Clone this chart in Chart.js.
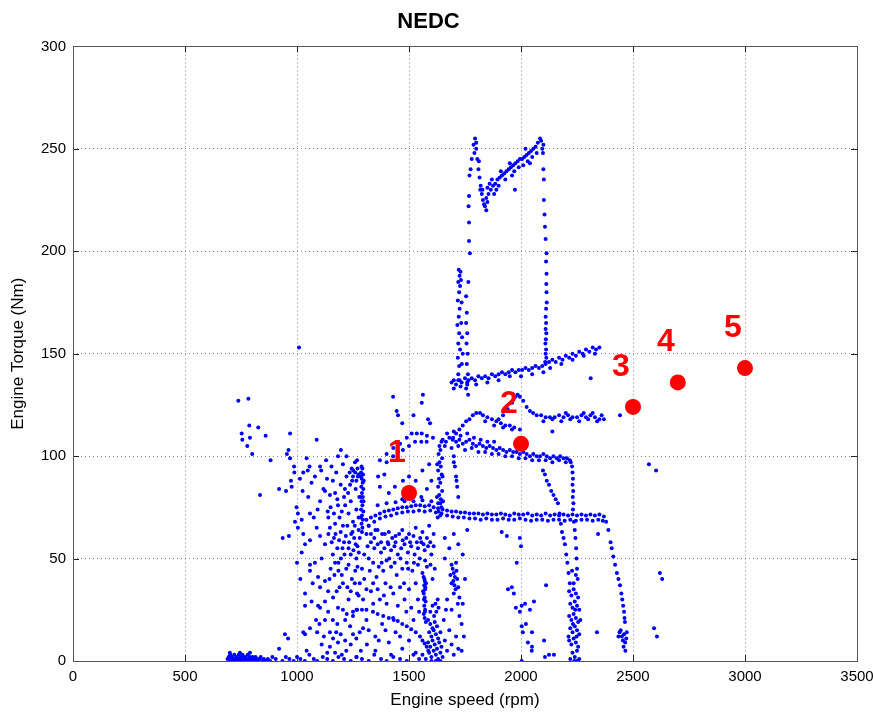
<!DOCTYPE html>
<html><head><meta charset="utf-8">
<script src="https://cdn.jsdelivr.net/npm/chart.js@4/dist/chart.umd.min.js"></script>
<style>html,body{margin:0;padding:0;background:#fff}#wrap{width:873px;height:713px}</style>
</head><body><div id="wrap"><canvas id="c" width="873" height="713"></canvas></div>
<script>
const chartTitle = "NEDC";
const xTitle = "Engine speed (rpm)";
const yTitle = "Engine Torque (Nm)";
const xTicks = [0,500,1000,1500,2000,2500,3000,3500];
const yTicks = [0,50,100,150,200,250,300];

// operating points (rpm, Nm) and their labels
const opLabels = ["1","2","3","4","5"];
const opPoints = [[1500,82],[2000,106],[2500,124],[2700,136],[3000,143]];

// measured cycle points, grouped by region (rpm, Nm)
const idleCluster = [[690,1],[695,2],[700,0],[702,3],[706,1],[710,2],[713,0],[716,1],[720,3],[723,1],[726,0],[730,2],[733,1],[737,0],[740,3],[743,1],[747,2],[750,0],[754,1],[757,3],[760,2],[764,0],[767,1],[770,2],[774,0],[777,1],[780,3],[784,1],[787,0],[790,2],[794,1],[798,0],[802,2],[806,1],[810,0],[815,2],[820,1],[826,0],[832,1],[838,2],[845,0],[852,1],[860,0],[870,1],[880,0],[890,2],[700,4],[745,4],[790,4]];
const lowSpread = [[905,1],[920,6],[935,0],[950,2],[966,1],[985,0],[1000,2],[1015,1],[1035,0],[1055,3],[1075,1],[1090,0],[1115,2],[1135,1],[1160,0],[1185,2],[1210,1],[1240,0],[1265,2],[1290,1],[1320,0],[1345,3],[1375,1],[1400,0],[1430,2],[1460,1],[1490,0],[1520,3],[1545,1],[946,13],[960,11],[1043,5],[1147,7],[1170,4],[1200,3],[1266,2]];
const upperLeft = [[738,127],[783,128],[787,115],[827,114],[753,111],[756,108],[790,109],[860,110],[778,105],[800,101],[882,98],[969,111],[835,81],[1088,108],[955,101],[962,103],[969,99],[1009,153]];
const leftCloud = [[920,84],[951,83],[976,85],[973,88],[988,92],[987,95],[998,75],[1004,72],[1013,89],[1025,83],[1028,92],[1043,99],[1048,93],[1056,95],[1021,69],[1058,72],[1065,87],[1092,74],[1103,78],[1103,95],[1108,93],[1125,83],[1134,89],[1137,73],[1147,81],[1154,95],[1170,82],[1183,76],[1183,100],[1196,103],[1200,73],[1214,84],[1221,90],[1221,100],[1237,86],[1244,94],[1251,93],[1259,97],
[936,60],[964,61],[991,68],[1004,65],[1028,62],[1036,57],[1021,53],[1058,59],[1088,65],[1103,61],[1125,57],[1147,65],[1165,60],[1180,55],[1195,63],[1210,58],[1225,66],[1240,52],[1255,60],[1270,56],[1058,47],[1058,44],[1094,41],[1125,39],[1103,36],[1139,34],[1177,34],[1161,31],[1036,33],[1036,27],[1065,29],[1094,27],[1125,29],[1103,26],[1139,24],[1183,26],[1205,25],[1266,25],[1268,33],[1295,30],[1310,35],[1028,14],[1036,13],[1058,16],[1090,14],[1100,18],[1125,20],[1120,12],[1147,14],[1161,11],[1175,14],[1183,9],[1195,13],[1215,10],[1237,17],[1250,13],[1265,11],[1280,14],[1295,16],[1080,48],[1110,50],[1150,45],[1170,48],[1200,42],[1220,45],[1245,40],[1260,44],[1280,38],[1190,36],[1230,30],[1250,22],[1215,20],[1160,20],[1180,18],
[1190,70],[1205,66],[1230,72],[1250,68],[1265,74],[1275,64],[1240,78],[1215,76],[1160,52],[1185,48],[1230,55],[1265,50],[1280,60],[1140,70],[1170,67]];
const denseCloud = [[1140,62],[1155,58],[1172,62],[1188,59],[1203,55],[1218,61],[1233,58],[1248,63],[1262,57],[1276,53],[1150,75],[1165,72],[1180,79],[1195,86],[1210,80],[1228,82],[1246,88],[1262,84],[1272,90],[1278,80],[1160,88],[1175,92],[1205,96],[1235,92],[1268,98],[1275,70],[1258,66],[1242,62],[1196,50],[1212,52],[1230,47],[1252,54],[1270,46],[1145,40],[1167,42],[1185,44],[1205,38],[1225,36],[1240,34],[1258,38],[1275,32],[1290,45],[1300,52],[1315,56],[1330,62],[1345,60],[1360,64],[1375,58],[1392,62],[1408,57],[1425,60],[1440,58],[1456,62],[1472,59],[1488,60],[1505,58],[1520,61],[1535,58],[1550,60],[1565,57],[1580,60],[1595,58],[1610,56],[1325,44],[1355,41],[1378,48],[1412,50],[1436,48],[1462,50],[1496,45],[1522,48],[1548,50],[1572,49],[1596,47],[1610,62],[1615,45],[1300,40],[1310,20],[1330,34],[1388,32],[1418,36],[1478,38],[1312,8],[1365,10],[1395,15],[1432,20],[1488,24],[1520,20],[1545,24],[1050,80],[1075,70],[1080,90],[1118,84],[1130,98],[1000,48],[1015,40],[1070,38],[1085,20],[1110,8],[1135,4],[1220,5],[1240,8],[1285,5]];
const line1300 = [[1288,95],[1292,94],[1286,92],[1295,91],[1289,89],[1293,87],[1287,85],[1296,84],[1290,82],[1294,80],[1288,78],[1292,76],[1286,74],[1296,73],[1290,71],[1294,69],[1288,67],[1292,65],[1290,63],[1285,90],[1298,88],[1283,80],[1297,78],[1285,70],[1250,90],[1260,92],[1270,94],[1275,91],[1265,88]];
const midCloud = [[1370,98],[1400,101],[1430,104],[1460,106],[1490,109],[1512,111],[1535,111],[1557,111],[1580,110],[1607,109],
[1400,97],[1429,100],[1450,102],[1473,103],[1500,105],[1527,107],[1555,107],[1579,107],
[1429,129],[1451,120],[1445,122],[1562,130],[1557,126],[1585,118],[1594,116],[1470,116],[1520,120],
[1362,90],[1390,91],[1473,88],[1370,85],[1437,85],[1410,82],[1500,90],[1530,88],[1560,93],[1590,96],[1600,88],[1555,80],[1470,79],[1520,80],[1580,84],
[1310,62],[1330,58],[1345,55],[1360,57],[1375,53],[1390,55],[1405,58],[1420,54],[1435,56],[1450,52],[1465,55],[1480,57],[1495,53],[1510,56],[1525,52],[1540,55],[1555,58],[1570,54],[1585,56],[1600,52],[1320,50],[1340,48],[1365,46],[1385,44],[1400,49],[1420,46],[1445,42],[1470,45],[1490,48],[1515,44],[1540,47],[1560,43],[1580,46],[1605,40],[1320,66],[1350,64],[1380,62],[1410,63],[1440,61],[1470,64],[1500,62],[1530,65],[1560,63],[1590,66],[1340,38],[1360,35],[1395,38],[1430,33],[1460,36],[1500,35],[1530,38],[1340,28],[1370,30],[1400,28],[1450,27],[1480,30],[1510,26],[1540,30],
[1320,15],[1350,12],[1380,18],[1410,9],[1440,14],[1470,6],[1500,10],[1530,4],[1350,5],[1420,3],[1460,12]];
const line75Upper = [[1310,69],[1330,70],[1350,71],[1370,72],[1390,73],[1410,73.5],[1430,74],[1450,74.5],[1470,75],[1490,75],[1510,75.5],[1530,76],[1550,76],[1570,75.5],[1590,76],[1610,75],[1630,74.5],[1650,74],[1670,73.5],[1690,73],[1710,73],[1730,72.5],[1750,72.5],[1770,72],[1790,72],[1810,72],[1830,71.5],[1850,72],[1870,71.5],[1890,71.5],[1910,72],[1930,71.5],[1950,71],[1970,72],[1990,71.5],[2010,71.5],[2030,72],[2050,71],[2070,71.5],[2090,71],[2110,72],[2130,71],[2150,71.5],[2170,71],[2190,71.5],[2210,71],[2230,71.5],[2250,71],[2270,71.5],[2290,71],[2310,71.5],[2330,71],[2350,71.5],[2370,70.5]];
const line75Lower = [[1320,66],[1345,68],[1370,69.5],[1395,70.5],[1420,71],[1445,72],[1470,72.5],[1495,73],[1520,73],[1545,73.5],[1570,73],[1595,73.5],[1620,72.5],[1645,72],[1670,71],[1695,70.5],[1720,70],[1745,70],[1770,69.5],[1795,69.5],[1820,69],[1845,69.5],[1870,69],[1895,69],[1920,69.5],[1945,69],[1970,69],[1995,69.5],[2020,69],[2045,68.5],[2070,69],[2095,69],[2120,68.5],[2145,69],[2170,69],[2195,68.5],[2220,69],[2245,68.5],[2270,69],[2295,69],[2320,68.5],[2345,69],[2365,68.5],[1360,76],[1400,77],[1440,77.5],[1480,78],[1520,78],[1560,78.5],[1600,78],[1640,77]];
const drop2450 = [[2380,68],[2390,64],[2400,58],[2405,55],[2412,51],[2420,47],[2428,43],[2435,40],[2442,37],[2448,33],[2452,30],[2456,27],[2460,24],[2462,21],[2464,19],[2440,14],[2450,12],[2455,10],[2460,13],[2465,9],[2470,11],[2445,15],[2458,7],[2466,5],[2435,12],[2472,14]];
const curveDown = [[1222,23],[1250,24],[1268,25],[1290,25],[1310,25],[1339,24],[1360,23],[1385,22],[1410,21],[1429,21],[1450,19.5],[1470,18],[1490,17],[1510,15.5],[1530,14],[1549,12],[1560,10],[1570,8.5],[1579,7],[1586,5]];
const col1600 = [[1565,41],[1570,39],[1568,37],[1572,35],[1566,33],[1570,31],[1574,29],[1568,27],[1572,25],[1566,23],[1570,21],[1575,19],[1569,40],[1573,36],[1567,30],[1571,24],[1576,38],[1563,34],
[1585,20],[1595,18],[1605,16],[1615,19],[1625,17],[1590,14],[1600,12],[1610,15],[1620,13],[1630,11],[1640,14],[1585,9],[1595,7],[1605,10],[1615,8],[1625,6],[1635,9],[1645,7],[1590,4],[1600,2],[1610,5],[1620,3],[1630,1],[1640,4],[1650,2],[1600,0],[1620,0],[1640,0],[1612,22],[1622,24],[1632,26],[1618,28],[1628,30],[1660,10],[1670,5],[1680,15],[1690,8],[1700,3],[1710,12],[1720,6],[1560,3],[1575,1],[1655,20],[1665,25],[1605,27],[1595,24],
[1690,47],[1695,45],[1700,43],[1705,41],[1698,39],[1703,37],[1708,35],[1700,33],[1712,44],[1715,40],[1720,36],[1685,42],[1690,38],[1710,48],[1725,31],[1718,28],[1725,22],[1735,18],
[1660,60],[1680,55],[1700,62],[1720,57],[1740,52],[1660,50],[1670,30],[1690,25],[1740,28],[1745,12],[1750,40],[1735,5],[1760,64]];
const box100 = [[1628,70],[1640,71],[1632,73],[1645,75],[1630,77],[1642,79],[1635,81],[1648,83],[1630,85],[1640,87],[1634,89],[1646,91],[1630,93],[1642,95],[1636,97],[1648,99],[1632,101],[1640,103],[1636,105],[1645,107],[1625,80],[1650,90],[1626,96],[1652,78],
[1700,100],[1705,95],[1710,90],[1715,85],[1720,80],[1700,97],[1712,88],
[1650,108],[1665,107],[1680,109],[1695,108],[1710,107],[1725,108],[1740,106],[1755,107],[1770,108],[1785,106],[1800,105],[1815,106],[1830,105],[1845,104],[1860,105],[1875,104],[1890,103],[1905,104],[1920,103],[1935,102],[1950,103],[1965,102],[1980,102],[1995,101],[2010,102],[2025,101],[2040,100],[2055,101],[2070,100],[2085,100],[2100,101],[2115,100],[2130,99],[2145,100],[2160,99],[2175,100],[2190,99],[2205,99],[2218,98],
[1660,105],[1690,104],[1720,105],[1750,103],[1780,104],[1810,102],[1840,102],[1870,101],[1900,101],[1930,100],[1960,100],[1990,99],[2020,99],[2050,98],[2080,98],[2110,98],[2140,97],[2170,98],[2200,97],
[1670,111],[1700,112],[1730,110],[1760,111],[1790,109],[1820,108],[1850,107],[1880,107]];
const drop2250 = [[2222,97],[2228,95],[2230,92],[2232,89],[2230,86],[2233,83],[2231,80],[2234,77],[2232,74],[2236,68],[2240,64],[2243,60],[2246,55],[2248,50],[2250,45],[2253,40],
[2098,93],[2107,91],[2115,88],[2125,86],[2135,83],[2145,81],[2155,79],[2165,77],[2172,72],[2178,67],[2183,63],[2190,60],[2196,57],[2202,52],[2207,48],[2212,43],[2218,38]];
const col2250 = [[2215,34],[2225,32],[2235,35],[2245,33],[2255,31],[2220,28],[2230,26],[2240,29],[2250,27],[2260,25],[2215,22],[2225,20],[2235,23],[2245,21],[2255,19],[2220,16],[2230,14],[2240,17],[2250,15],[2260,13],[2215,10],[2225,8],[2235,11],[2245,9],[2255,7],[2230,4],[2240,2],[2250,5],[2220,1],[2260,1],[2235,38],[2245,42],[2228,44],[2212,12],[2265,20],[2238,0],[2250,0],[2232,18],[2242,25],[2248,12]];
const hump120 = [[1697,109],[1710,111],[1725,113],[1740,115],[1755,117],[1770,118],[1785,120],[1800,121],[1817,121],
[1830,120],[1850,119],[1870,118],[1890,117],[1910,116],[1930,115],[1950,115],[1970,114],[1995,113],[1840,117],[1880,115],[1920,114],[1960,113],
[1900,118],[1920,120],[1940,123],[1960,126],[1975,129],[1985,130],[1995,129],[2010,127],[2025,124],[2040,122],[2054,121],[2070,120],[2090,120],[2110,119],[2129,119],[2150,119],[2170,120],[2190,119],[2210,120],[2230,119],[2250,119],[2270,120],[2290,119],[2310,120],[2330,119],[2350,118],[2370,118],[2100,117],[2140,118],[2180,117],[2220,118],[2260,117],[2300,118],[2340,117],[2200,121],[2280,121],[2320,121],[2360,120]];
const line140 = [[1690,136],[1700,137],[1710,135],[1720,137],[1735,136],[1750,138],[1765,137],[1780,138],[1795,137],[1810,139],[1825,138],[1840,139],[1855,138],[1870,140],[1885,139],[1900,140],[1915,141],[1930,140],[1945,141],[1960,142],[1975,141],[1990,142],[2005,142],[2020,143],[2035,142],[2050,143],[2065,144],[2080,143],[2095,144],[2110,145],[2125,146],[2140,147],[2155,146],[2170,148],[2185,147],[2200,149],[2215,148],[2230,150],[2245,149],[2260,151],[2275,150],[2290,152],[2305,151],[2320,153],[2335,152],[2350,153],[1700,133],[1730,134],[1760,135],[1800,135],[1850,136],[1900,137],[1950,139],[2000,139],[2050,140],[2100,141],[2130,143],[2180,145],[2230,147],[2280,149],[2330,150],
[2110,168],[2112,165],[2110,162],[2113,160],[2111,157],[2109,155],[2112,152],[2110,150],[2113,148],[2108,146]];
const spike1730 = [[1722,191],[1726,188],[1720,185],[1728,183],[1724,180],[1718,176],[1726,172],[1722,168],[1716,164],[1724,160],[1720,155],[1728,152],[1718,148],[1724,144],[1720,140],[1726,137],[1730,190],[1732,186],[1735,175],[1733,165],[1737,158],[1740,150],[1736,145],[1755,178],[1758,170],[1755,165],[1760,160],[1757,155],[1762,150],[1758,145],[1763,140],[1760,136],[1765,185],[1764,130],[1755,133]];
const vSpike = [[1768,214],[1768,205],[1772,199],[1766,222],[1768,227],[1770,237],[1775,240],[1780,245],[1788,252],[1795,255],[1800,253],[1792,248],
[1800,250],[1805,245],[1810,240],[1815,236],[1820,232],[1825,228],[1830,225],[1835,223],[1839,222],[1845,220],[1850,224],[1812,244],[1818,230],[1828,230],
[1845,226],[1855,228],[1865,230],[1875,232],[1885,233],[1895,235],[1905,236],[1915,237],[1925,238],[1935,239],[1945,240],[1955,241],[1965,242],[1975,243],[1985,244],[1995,245],[2005,245],[2015,246],[2025,247],[2035,248],[2045,249],[2055,250],[2065,251],[2075,253],[2085,255],[2090,254],
[1850,231],[1870,235],[1890,230],[1910,239],[1930,235],[1950,243],[1970,239],[1990,241],[2010,242],[2030,244],[2050,246],[2070,248],[1900,232],[1960,237],[2020,250],[2040,243],[1880,228],[1860,233],[1973,230],
[2098,248],[2100,240],[2102,235],[2102,225],[2105,218],[2107,212],[2110,206],[2114,199],[2112,195],[2114,189],[2113,184],[2114,180],[2115,175],[2112,172],[2095,250],[2100,252]];
const scatter2000 = [[1914,63],[1937,61],[1981,48],[1959,36],[1942,35],[1968,33],[1977,26],[2003,27],[2018,28],[2058,29],[2040,25],[1995,24],[2003,17],[2022,18],[2008,14],[2049,14],[2031,9],[2049,7],[2103,10],[2112,37],[2048,5],[2107,2],[2125,3],[2147,3],[2003,0],[2339,14],[2344,62],[2000,56],[1995,60]];
const outliersRight = [[2571,96],[2603,93],[2620,43],[2630,40],[2594,16],[2607,12],[2442,120],[2311,138],[2140,112]];

const cyclePoints = [].concat(idleCluster, lowSpread, upperLeft, leftCloud, denseCloud, line1300, midCloud,
  line75Upper, line75Lower, drop2450, curveDown, col1600, box100, drop2250, col2250,
  hump120, line140, spike1730, vSpike, scatter2000, outliersRight).map(p => ({x:p[0], y:p[1]}));
const opData = opPoints.map(p => ({x:p[0], y:p[1]}));

const FONT = "'Liberation Sans', Arial, Helvetica, sans-serif";

const frame = {
  id: 'frame',
  beforeDatasetsDraw(chart) {
    const {ctx, chartArea:a, scales} = chart;
    ctx.save();
    ctx.strokeStyle = '#222';
    ctx.lineWidth = 1;
    ctx.beginPath();
    scales.x.ticks.forEach(t => {
      const px = Math.round(scales.x.getPixelForValue(t.value)) + 0.5;
      ctx.moveTo(px, a.bottom); ctx.lineTo(px, a.bottom - 6);
      ctx.moveTo(px, a.top); ctx.lineTo(px, a.top + 6);
    });
    scales.y.ticks.forEach(t => {
      const py = Math.round(scales.y.getPixelForValue(t.value)) + 0.5;
      ctx.moveTo(a.left, py); ctx.lineTo(a.left + 6, py);
      ctx.moveTo(a.right, py); ctx.lineTo(a.right - 6, py);
    });
    ctx.stroke();
    ctx.strokeStyle = '#555';
    ctx.strokeRect(Math.round(a.left)+0.5, Math.round(a.top)+0.5, Math.round(a.right-a.left), Math.round(a.bottom-a.top));
    ctx.restore();
  }
};
const numLabels = {
  id: 'numLabels',
  afterDatasetsDraw(chart) {
    const {ctx, scales} = chart;
    ctx.save();
    ctx.fillStyle = '#ff0000';
    ctx.font = "bold 32px " + FONT;
    ctx.textAlign = 'center';
    ctx.textBaseline = 'middle';
    opPoints.forEach((p, i) => {
      const px = scales.x.getPixelForValue(p[0]);
      const py = scales.y.getPixelForValue(p[1]);
      ctx.fillText(opLabels[i], px - 12, py - 40);
    });
    ctx.restore();
  }
};

new Chart(document.getElementById('c'), {
  type: 'scatter',
  data: { datasets: [
    { label: 'Operating points', data: opData, order: 0, pointRadius: 8, pointHoverRadius: 8,
      backgroundColor: '#ff0000', borderWidth: 0 },
    { label: 'NEDC', data: cyclePoints, order: 1, pointRadius: 2, pointHoverRadius: 2,
      backgroundColor: '#0000ff', borderWidth: 0 }
  ]},
  options: {
    responsive: false, animation: false, devicePixelRatio: 1,
    layout: { padding: { left: 0, right: 16, top: 0, bottom: 0 } },
    plugins: {
      legend: { display: false }, tooltip: { enabled: false },
      title: { display: true, text: chartTitle, color: '#000',
        font: { family: FONT, size: 22, weight: 'bold' }, padding: { top: 9, bottom: 11 } }
    },
    scales: {
      x: { type: 'linear', min: 0, max: 3500,
        afterBuildTicks: s => { s.ticks = xTicks.map(v => ({value: v})); },
        afterFit: s => { s.height = 52; s.paddingLeft = 0; s.paddingRight = 0; },
        ticks: { color: '#000', font: { family: FONT, size: 15 }, padding: 7, maxRotation: 0,
          callback: v => String(v) },
        grid: { color: '#8a8a8a', lineWidth: 1, drawTicks: false },
        border: { display: false, dash: [1,3] },
        title: { display: true, text: xTitle, color: '#000', font: { family: FONT, size: 17 }, padding: { top: 0, bottom: 2 } } },
      y: { type: 'linear', min: 0, max: 300,
        afterBuildTicks: s => { s.ticks = yTicks.map(v => ({value: v})); },
        afterFit: s => { s.width = 73; s.paddingTop = 0; s.paddingBottom = 0; },
        ticks: { color: '#000', font: { family: FONT, size: 15 }, padding: 7, callback: v => String(v) },
        grid: { color: '#8a8a8a', lineWidth: 1, drawTicks: false },
        border: { display: false, dash: [1,3] },
        title: { display: true, text: yTitle, color: '#000', font: { family: FONT, size: 17 }, padding: { top: 8, bottom: 0 } } }
    }
  },
  plugins: [frame, numLabels]
});
</script>
</body></html>
